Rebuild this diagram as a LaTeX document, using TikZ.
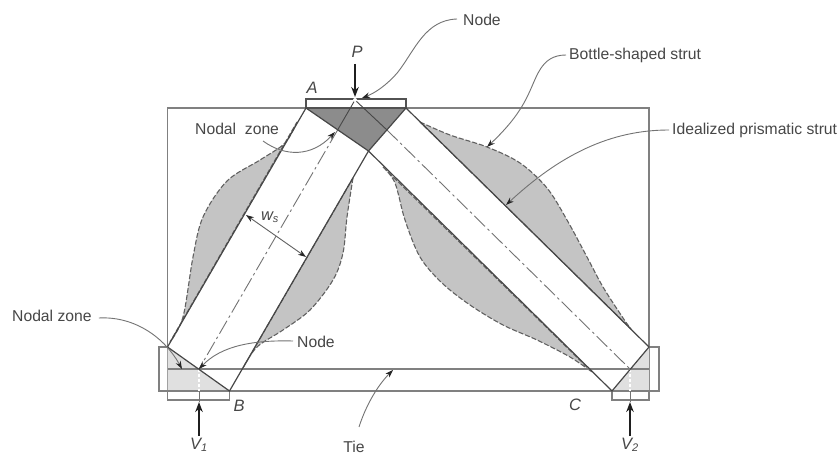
\documentclass[tikz,border=0pt]{standalone}
\usepackage{fontspec}
\setmainfont{Liberation Sans}
\usetikzlibrary{arrows.meta}
\definecolor{inkc}{gray}{0.28}
\definecolor{bulge}{gray}{0.77}
\definecolor{darkz}{gray}{0.55}
\definecolor{lightz}{gray}{0.88}
\tikzset{
 x=1pt,y=-1pt,
 outline/.style={draw=black!50,line width=1.1pt},
 strutedge/.style={draw=black!72,line width=1.2pt,line cap=round},
 bottle/.style={draw=black!62,fill=bulge,line width=1.1pt,dash pattern=on 5pt off 2pt},
 center/.style={draw=black!55,line width=0.9pt,dash pattern=on 15pt off 3.5pt on 2.5pt off 3.5pt},
 leader/.style={draw=black!55,line width=0.9pt,-{Stealth[length=8pt,width=5.5pt,black!85]}},
 load/.style={draw=black!88,line width=2.2pt,-{Stealth[length=10pt,width=7.5pt]}},
 lbl/.style={text=inkc,font=\fontsize{15.7}{18}\selectfont,inner sep=0pt},
 ital/.style={text=inkc,font=\fontsize{16.5}{18}\selectfont\itshape,inner sep=0pt},
}
\begin{document}
\begin{tikzpicture}
\useasboundingbox (0,0) rectangle (838,454);
\fill[white] (0,0) rectangle (838,454);
% geometry
\coordinate (TL) at (167.5,108); \coordinate (TR) at (649,108);
\coordinate (A) at (306,108); \coordinate (D) at (406,108); \coordinate (E) at (368.5,151);
\coordinate (SL) at (167.5,347); \coordinate (B) at (229.5,391);
\coordinate (SR) at (649,347); \coordinate (C) at (612,391);
\coordinate (BL) at (167.5,391); \coordinate (BR) at (649,391);
\coordinate (NP) at (355,100); \coordinate (N1) at (199,369); \coordinate (N2) at (630,369);
% beam
\draw[outline] (BL) -- (TL) -- (TR) -- (BR);
% bottle bulges
\path[bottle] plot[smooth,tension=0.55] coordinates {(297,122) (285,143) (260,160) (227,181) (203,217) (193,257) (183,317) (170,342)} -- cycle;
\path[bottle] plot[smooth,tension=0.55] coordinates {(353,178) (347,217) (343,253) (333,280) (310,310) (283,330) (257,347) (243,368)} -- cycle;
\path[bottle] plot[smooth,tension=0.55] coordinates {(420,122) (450,135) (487,147) (520,163) (547,188) (567,220) (587,257) (603,287) (623,318) (631,329)} -- cycle;
\path[bottle] plot[smooth,tension=0.55] coordinates {(383,167) (395,183) (405,220) (420,257) (442,283) (470,305) (503,325) (537,340) (570,357) (592,372)} -- cycle;
% nodal zones
\fill[darkz] (A) -- (D) -- (E) -- cycle;
\fill[lightz] (SL) -- (B) -- (BL) -- cycle;
\fill[lightz] (SR) -- (C) -- (BR) -- cycle;
% tie and bearing plates
\draw[outline] (SL) -- ++(-8.5,0) -- (159,391) -- (659,391) -- (659,347) -- (SR);
\draw[outline] (BL) -- (167.5,400) -- (229.5,400) -- (B);
\draw[outline] (C) -- (612,400) -- (649,400) -- (BR);
\draw[outline] (167.5,369) -- (649,369);
\draw[outline,fill=white,draw=black!68] (A) -- (306,99) -- (406,99) -- (D) -- cycle;
% centre lines
\draw[center] (337.6,130) -- (N1);
\draw[center] (387,130) -- (N2);
\draw[strutedge,line width=0.9pt] (NP) -- (337.6,130);
\draw[strutedge,line width=0.9pt] (NP) -- (387,130);
\draw[white,line width=1.1pt,dash pattern=on 3pt off 2pt] (N1) -- (199,391);
\draw[black!55,line width=0.9pt] (199,391) -- (199,402);
\draw[white,line width=1.1pt,dash pattern=on 3pt off 2pt] (N2) -- (630,391);
\draw[black!55,line width=0.9pt] (630,391) -- (630,402);
% struts
\draw[strutedge] (SL) -- (A) -- (E) -- (D) -- (SR) -- (C) -- (E) -- (B) -- (SL);
\fill[white] (NP) circle (2);
% labels
\node[lbl,anchor=west] (nodeT) at (463,20) {Node};
\node[lbl,anchor=west] (bottleL) at (569,55) {Bottle-shaped strut};
\node[lbl,anchor=west] (idealL) at (672,130) {Idealized prismatic strut};
\node[lbl,anchor=west] (zoneT) at (195,129) {Nodal\ \ zone};
\node[lbl,anchor=west] (zoneB) at (12,316) {Nodal zone};
\node[lbl,anchor=west] (nodeB) at (297,342) {Node};
\node[lbl] (tieL) at (354,446.5) {Tie};
\node[ital] (Pl) at (357,52) {P};
\node[ital] (Al) at (312,88) {A};
\node[ital] (Bl) at (239,406) {B};
\node[ital] (Cl) at (575,405) {C};
\node[ital] (V1l) at (199,445) {V\textsubscript{\fontsize{11}{11}\selectfont 1}};
\node[ital] (V2l) at (630,445) {V\textsubscript{\fontsize{11}{11}\selectfont 2}};
\node[ital] (wl) at (270,217) {w\textsubscript{\fontsize{11}{11}\selectfont s}};
% loads
\coordinate (pTop) at (355,64);
\draw[load] (pTop) -- (355,97);
\draw[load] (199,436) -- (199,402);
\draw[load] (630,436) -- (630,402);
% leaders
\coordinate (aNode) at (362,98);
\coordinate (aBottle) at (487,147);
\coordinate (aIdeal) at (506,205);
\coordinate (aZoneT) at (335,132);
\coordinate (sZoneT) at (263,141);
\coordinate (aZoneB) at (182,369);
\coordinate (aTie) at (393,370);
\coordinate (sTie) at (359,427);
\coordinate (w1) at (246,215);
\coordinate (w2) at (306,257);
\draw[leader] (nodeT.west) ++(-6,-1) .. controls (425,20) and (415,50) .. (398,72) .. controls (387,85) and (375,93) .. (aNode);
\draw[leader] (bottleL.west) ++(-3,0) .. controls (540,55) and (537,78) .. (527,97) .. controls (518,116) and (503,132) .. (aBottle);
\draw[leader] (idealL.west) ++(-3,0) .. controls (610,130) and (560,155) .. (aIdeal);
\draw[leader] (sZoneT) .. controls (285,157) and (312,157) .. (aZoneT);
\draw[leader] (zoneB.east) ++(7,2) .. controls (135,316) and (165,338) .. (aZoneB);
\draw[leader] (nodeB.west) ++(-4,-1) .. controls (255,340) and (222,345) .. (N1);
\draw[leader] (sTie) .. controls (366,405) and (378,385) .. (aTie);
\draw[draw=black!62,line width=0.9pt,{Stealth[length=8pt,width=5.5pt,black!85]}-{Stealth[length=8pt,width=5.5pt,black!85]}] (w1) -- (w2);
\end{tikzpicture}
\end{document}
